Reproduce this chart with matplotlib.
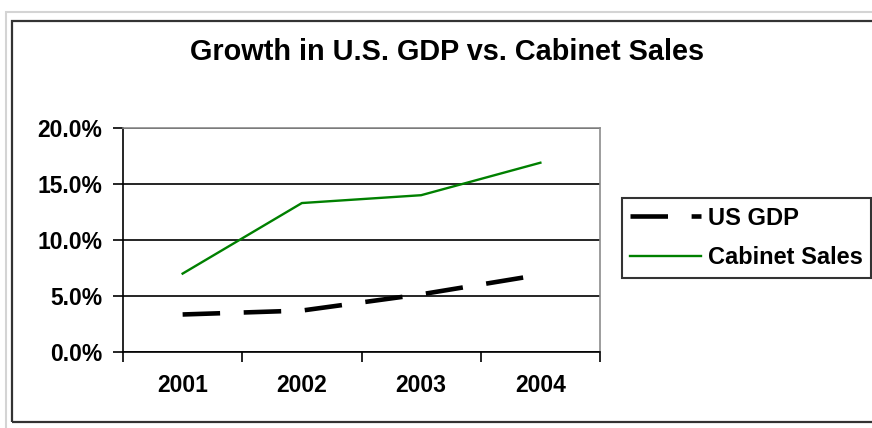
import matplotlib
matplotlib.use("Agg")
import matplotlib.pyplot as plt
from matplotlib.patches import Rectangle
from matplotlib.ticker import FixedLocator, PercentFormatter

# 数据
years = ["2001", "2002", "2003", "2004"]
us_gdp = [3.35, 3.7, 5.15, 6.9]
cabinet_sales = [7.0, 13.3, 14.0, 16.9]

plt.rcParams['font.family'] = ['Liberation Sans', 'DejaVu Sans']
plt.rcParams['font.weight'] = 'bold'
plt.rcParams['lines.scale_dashes'] = False

W, H = 872, 428
fig = plt.figure(figsize=(W / 100, H / 100), dpi=100)

# 外框
fig.add_artist(Rectangle((6 / W, -0.05), 1.1, (H - 12) / H + 0.05, transform=fig.transFigure,
                         fill=False, edgecolor='#d4d4d4', linewidth=1.5))
fig.add_artist(Rectangle((12 / W, 6 / H), 1.1, (H - 27) / H, transform=fig.transFigure,
                         fill=False, edgecolor='#333333', linewidth=1.6))

ax = fig.add_axes([123 / W, (H - 352) / H, (600 - 123) / W, (352 - 128) / H])
x = list(range(len(years)))

ax.plot(x, us_gdp, color='black', linewidth=3.3, dashes=(27, 17), solid_capstyle='butt',
        dash_capstyle='butt', label='US GDP')
ax.plot(x, cabinet_sales, color='#008000', linewidth=1.7, label='Cabinet Sales')

ax.set_xlim(-0.5, len(years) - 0.5)
ax.set_ylim(0, 20)

# 网格和坐标轴
ax.set_yticks([0, 5, 10, 15, 20])
ax.yaxis.set_major_formatter(PercentFormatter(decimals=1))
ax.yaxis.grid(True, color='black', linewidth=1.2)
ax.set_axisbelow(True)

ax.xaxis.set_major_locator(FixedLocator([i - 0.5 for i in range(len(years) + 1)]))
ax.xaxis.set_major_formatter(plt.NullFormatter())
ax.xaxis.set_minor_locator(FixedLocator(x))
ax.set_xticklabels(years, minor=True)
ax.tick_params(axis='x', which='major', length=7, width=1.2, direction='out', color='black')
ax.tick_params(axis='x', which='minor', length=0, pad=16, labelsize=16.5)
ax.tick_params(axis='y', length=7, width=1.2, direction='out', pad=8, labelsize=16.5)

for side in ('top', 'right'):
    ax.spines[side].set_color('#8c8c8c')
    ax.spines[side].set_linewidth(1.2)
for side in ('left', 'bottom'):
    ax.spines[side].set_color('black')
    ax.spines[side].set_linewidth(1.2)

fig.text(447 / W, (H - 52) / H, 'Growth in U.S. GDP vs. Cabinet Sales', ha='center', va='center',
         fontsize=20.8, fontweight='bold')

leg = fig.legend(loc='center left', bbox_to_anchor=(622 / W, (H - 238) / H), fontsize=17,
                 frameon=True, fancybox=False, edgecolor='black', handlelength=3.0,
                 handletextpad=0.3, labelspacing=0.7, borderpad=0.35, borderaxespad=0)
leg.get_frame().set_linewidth(1.5)

fig.savefig('out.png', dpi=100)
